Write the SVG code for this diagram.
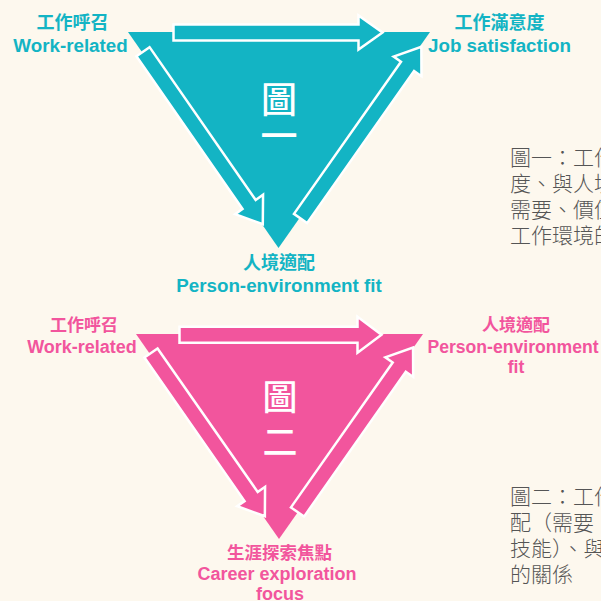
<svg xmlns="http://www.w3.org/2000/svg" width="601" height="601" viewBox="0 0 601 601">
<style>
.bg{fill:#fdf8ee}
.t{fill:#13b4c4}
.p{fill:#f2559d}
.arr{stroke:#ffffff;stroke-width:2.5;stroke-linejoin:miter}
.lab{font-family:"Liberation Sans","Noto Sans CJK TC",sans-serif;font-weight:bold;text-anchor:middle}
.big{font-family:"Noto Sans CJK TC",sans-serif;font-weight:500;fill:#ffffff;text-anchor:middle}
.para{font-family:"Noto Sans CJK TC",sans-serif;font-weight:300;font-size:21px;fill:#555555}
</style>
<rect class="bg" x="0" y="0" width="601" height="601"/>

<g id="triangle1">
<polygon class="t" points="128,32 430,32 278.5,248"/>
<text class="big" x="279" y="113" font-size="36">圖</text>
<text class="big" x="279" y="150" font-size="37">一</text>
</g>
<g id="triangle2">
<polygon class="p" points="136,334 423,334 279,539"/>
<text class="big" x="280" y="410" font-size="35">圖</text>
<text class="big" x="280" y="455" font-size="35">二</text>
</g>

<g id="connectors">
<polygon class="t arr" transform="translate(173.5,32.5)" points="0,-8 185,-8 185,-17 209,0 185,17 185,8 0,8"/>
<polygon class="t arr" transform="translate(143,51.7) rotate(55.22)" points="0,-8 186,-8 186,-17 210,0 186,17 186,8 0,8"/>
<polygon class="t arr" transform="translate(300.5,218.5) rotate(-54.87)" points="0,-8 186,-8 186,-17 210,0 186,17 186,8 0,8"/>
<polygon class="p arr" transform="translate(179.5,334.7)" points="0,-8 178,-8 178,-18 202,0 178,18 178,8 0,8"/>
<polygon class="p arr" transform="translate(151,353) rotate(55.1)" points="0,-8 175,-8 175,-17 199,0 175,17 175,8 0,8"/>
<polygon class="p arr" transform="translate(297.5,512) rotate(-54.91)" points="0,-8 177,-8 177,-17 201,0 177,17 177,8 0,8"/>
</g>

<g id="node-work1">
<text class="lab t" x="72.5" y="29" font-size="18">工作呼召</text>
<text class="lab t" x="70.5" y="52" font-size="18.8">Work-related</text>
</g>
<g id="node-job">
<text class="lab t" x="499.5" y="29" font-size="18">工作滿意度</text>
<text class="lab t" x="499.5" y="52" font-size="18.8">Job satisfaction</text>
</g>
<g id="node-pe1">
<text class="lab t" x="279" y="269" font-size="18">人境適配</text>
<text class="lab t" x="279" y="292" font-size="18.8">Person-environment fit</text>
</g>
<g id="note1">
<text class="para" x="510" y="165">圖一：工作</text>
<text class="para" x="510" y="191">度、與人境</text>
<text class="para" x="510" y="217">需要、價值</text>
<text class="para" x="510" y="243">工作環境的</text>
</g>

<g id="node-work2">
<text class="lab p" x="84" y="331" font-size="17">工作呼召</text>
<text class="lab p" x="82" y="353" font-size="18">Work-related</text>
</g>
<g id="node-pe2">
<text class="lab p" x="516" y="331" font-size="17">人境適配</text>
<text class="lab p" x="513" y="353" font-size="17.6">Person-environment</text>
<text class="lab p" x="516" y="373" font-size="17.6">fit</text>
</g>
<g id="node-career">
<text class="lab p" x="279.5" y="559" font-size="17.5">生涯探索焦點</text>
<text class="lab p" x="277" y="580" font-size="18">Career exploration</text>
<text class="lab p" x="280" y="600" font-size="18">focus</text>
</g>
<g id="note2">
<text class="para" x="510" y="504">圖二：工作</text>
<text class="para" x="510" y="530">配（需要、</text>
<text class="para" x="510" y="556">技能）、與</text>
<text class="para" x="510" y="582">的關係</text>
</g>
</svg>
